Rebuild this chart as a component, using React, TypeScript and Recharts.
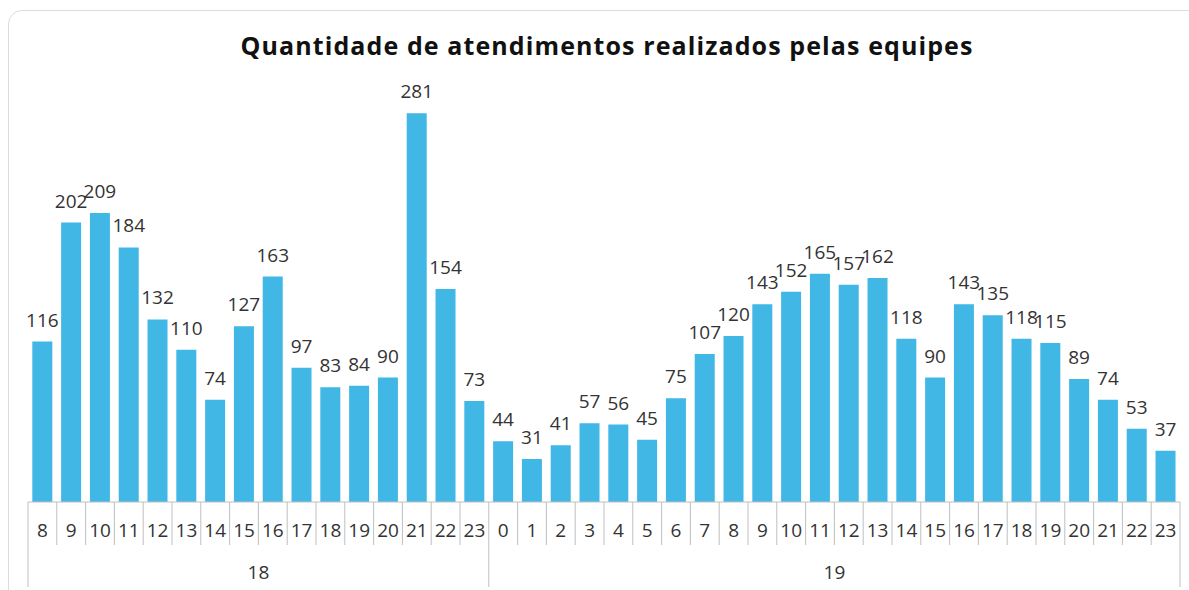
import React from 'react';
import { BarChart, Bar, XAxis, YAxis, LabelList } from 'recharts';

// day groups and hours as shown on the two-level category axis
const days = ['18', '19'];
const hours18 = ['8', '9', '10', '11', '12', '13', '14', '15', '16', '17', '18', '19', '20', '21', '22', '23'];
const hours19 = ['0', '1', '2', '3', '4', '5', '6', '7', '8', '9', '10', '11', '12', '13', '14', '15', '16', '17', '18', '19', '20', '21', '22', '23'];

const values18 = [116, 202, 209, 184, 132, 110, 74, 127, 163, 97, 83, 84, 90, 281, 154, 73];
const values19 = [44, 31, 41, 57, 56, 45, 75, 107, 120, 143, 152, 165, 157, 162, 118, 90, 143, 135, 118, 115, 89, 74, 53, 37];

const data = [
  ...hours18.map((h, i) => ({ day: days[0], hour: h, value: values18[i] })),
  ...hours19.map((h, i) => ({ day: days[1], hour: h, value: values19[i] })),
];

const W = 1189;
const H = 590;
const margin = { top: 87, right: 9, bottom: 0, left: 28 };
const BAND = (W - margin.left - margin.right) / data.length;
const FONT = '"Open Sans", sans-serif';
const LINE = '#bfbfbf';
const TEXT = '#333';

const HourTick = (props: any) => {
  const { x, y, payload, index } = props;
  const half = payload && payload.offset ? payload.offset : BAND / 2;
  const row = data[index];
  if (!row) return null;
  const groupStart = index === 0 || data[index - 1].day !== row.day;
  const isLast = index === data.length - 1;
  const groupSize = data.filter((d) => d.day === row.day).length;
  const firstIdx = data.findIndex((d) => d.day === row.day);
  const isMid = index - firstIdx === Math.floor(groupSize / 2);
  return (
    <g>
      <line x1={x - half} x2={x - half} y1={y} y2={groupStart ? y + 85 : y + 43} stroke={LINE} strokeWidth={1} />
      {isLast && <line x1={x + half} x2={x + half} y1={y} y2={y + 85} stroke={LINE} strokeWidth={1} />}
      <text x={x} y={y + 35} textAnchor="middle" fontSize={19} fontFamily={FONT} fill={TEXT}>
        {row.hour}
      </text>
      {isMid && (
        <text x={groupSize % 2 === 0 ? x - half : x} y={y + 77} textAnchor="middle" fontSize={19} fontFamily={FONT} fill={TEXT}>
          {row.day}
        </text>
      )}
    </g>
  );
};

const App: React.FC = () => {
  return (
    <div style={{ position: 'absolute', left: 0, top: 0, width: W, height: H, background: '#fff', overflow: 'hidden' }}>
      <div
        style={{
          position: 'absolute',
          left: 8,
          top: 10,
          width: 1210,
          height: 620,
          border: '1px solid #dcdcdc',
          borderRadius: 14,
          boxSizing: 'border-box',
        }}
      />
      <div
        style={{
          position: 'absolute',
          left: 0,
          top: 27,
          width: 1214,
          textAlign: 'center',
          fontFamily: FONT,
          fontWeight: 700,
          fontSize: 25,
          letterSpacing: 1.1,
          lineHeight: '36px',
          color: '#111',
        }}
      >
        Quantidade de atendimentos realizados pelas equipes
      </div>
      <div style={{ position: 'absolute', left: 0, top: 0 }}>
        <BarChart width={W} height={H} data={data} margin={margin} barCategoryGap="15%">
          <YAxis hide domain={[0, 300]} />
          <XAxis
            dataKey="hour"
            interval={0}
            height={88}
            tickSize={0}
            tickMargin={0}
            tickLine={false}
            axisLine={{ stroke: LINE }}
            tick={<HourTick />}
          />
          <Bar dataKey="value" fill="#41b7e6" isAnimationActive={false}>
            <LabelList dataKey="value" position="top" offset={15} fontSize={19} fontFamily={FONT} fill={TEXT} />
          </Bar>
        </BarChart>
      </div>
    </div>
  );
};

export default App;
